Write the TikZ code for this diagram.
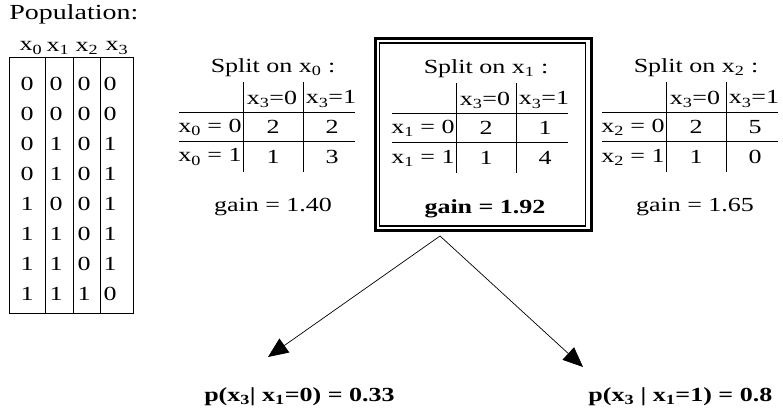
\documentclass[tikz,border=0pt]{standalone}
\usepackage{fontspec}
\setmainfont[FakeStretch=1.3]{Liberation Serif}
\usetikzlibrary{arrows.meta}
\newcommand{\xv}[1]{x\textsubscript{#1}}

\begin{document}
\begin{tikzpicture}[x=1pt, y=-1pt, line width=0.8pt,
    every node/.style={inner sep=0pt, font=\fontsize{20}{24}\selectfont},
    bestline/.style={-{Triangle[length=20pt,width=17pt]}, line width=0.7pt}]
    \useasboundingbox (0,0) rectangle (783,419);

    % Population table
    \node[anchor=base west, font=\fontsize{21.5}{24}\selectfont] (poptitle) at (9,20) {Population:};
    \foreach \c/\xx in {0/31,1/58,2/87,3/117}
        \node (hd\c) at (\xx,48) {\xv{\c}};
    \draw (9,57) rectangle (133,313);
    \foreach \xx in {45,73,100}
        \draw (\xx,57) -- (\xx,313);
    \foreach \a/\b/\c/\d [count=\r] in {0/0/0/0, 0/0/0/0, 0/1/0/1, 0/1/0/1,
                                        1/0/0/1, 1/1/0/1, 1/1/0/1, 1/1/1/0} {
        \node (p\r a) at (27,{54+30*\r}) {\a};
        \node (p\r b) at (56,{54+30*\r}) {\b};
        \node (p\r c) at (84,{54+30*\r}) {\c};
        \node (p\r d) at (110,{54+30*\r}) {\d};
    }

    % Split tables
    \foreach \v/\xo/\dy/\a/\b/\c/\d in {0/243/0/2/2/1/3, 1/456/1/2/1/1/4, 2/666/0/2/5/1/0} {
        \begin{scope}[shift={(\xo,\dy)}]
            \node (split\v) at (30,68) {Split on \xv{\v} :};
            \draw (0,82) -- (0,172);
            \draw (60,82) -- (60,172);
            \draw (-64,112) -- (112,112);
            \draw (-64,141) -- (112,141);
            \node (h\v a) at (29,99) {\xv{3}=0};
            \node (h\v b) at (88,99) {\xv{3}=1};
            \node[anchor=east] (r\v a) at (-1,127) {\xv{\v} = 0};
            \node[anchor=east] (r\v b) at (-1,157) {\xv{\v} = 1};
            \node (c\v a) at (30,127) {\a};
            \node (c\v b) at (89,127) {\b};
            \node (c\v c) at (30,157) {\c};
            \node (c\v d) at (89,157) {\d};
        \end{scope}
    }
    \node (gain0) at (273,207) {gain = 1.40};
    \node[font=\fontsize{20}{24}\selectfont\bfseries] (gain1) at (485,209) {gain = 1.92};
    \node (gain2) at (695,207) {gain = 1.65};

    % Best split frame
    \draw[line width=3pt] (375.5,38.5) rectangle (591,230.5);
    \draw[line width=1.5pt] (379.5,43) rectangle (585.5,226);

    % Branches
    \coordinate (apex) at (440,236);
    \coordinate (tipL) at (268,357);
    \coordinate (tipR) at (583,367);
    \draw[bestline] (apex) -- (tipL);
    \draw[bestline] (apex) -- (tipR);
    \node[anchor=east, font=\fontsize{20}{24}\selectfont\bfseries] (pleft) at (395,397)
        {p(\xv{3}| \xv{1}=0) = 0.33};
    \node[anchor=west, font=\fontsize{20}{24}\selectfont\bfseries] (pright) at (588,397)
        {p(\xv{3} | \xv{1}=1) = 0.8};
\end{tikzpicture}
\end{document}
